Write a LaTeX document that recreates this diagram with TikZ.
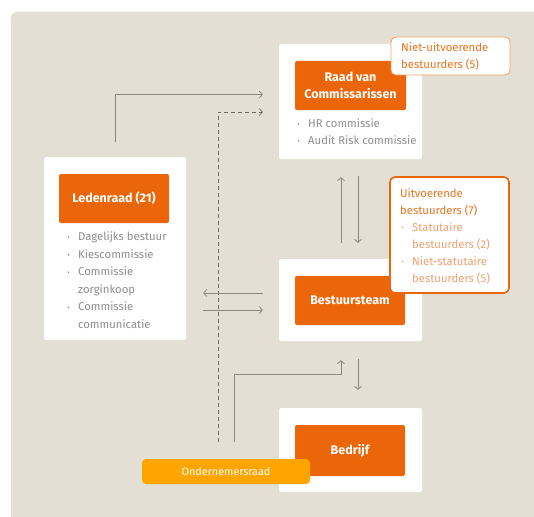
\documentclass[tikz,border=0pt]{standalone}
\usepackage{fontspec}
\setmainfont{Fira Sans}
\usetikzlibrary{arrows.meta}
\definecolor{beige}{HTML}{E3DFD5}
\definecolor{orng}{HTML}{EB6608}
\definecolor{orngtxt}{HTML}{E8731C}
\definecolor{peach}{HTML}{F0A070}
\definecolor{ornbr}{HTML}{F0A060}
\definecolor{yell}{HTML}{FFA500}
\definecolor{listgray}{HTML}{8E8E8E}
\definecolor{arrowgray}{HTML}{8A877E}
\definecolor{dashgray}{HTML}{6E6B64}
\tikzset{
  whitebox/.style={fill=white, rounded corners=2pt, inner sep=0pt},
  orangebox/.style={fill=orng, rounded corners=2pt, inner sep=0pt, text=white, font=\bfseries\fontsize{12.5}{16.6}\selectfont, align=center},
  listtxt/.style={text=listgray, font=\fontsize{11.3}{13}\selectfont, inner sep=0pt, anchor=base west},
  bul/.style={fill=listgray, circle, inner sep=0pt, minimum size=1.8pt},
  callout/.style={fill=white, draw=ornbr, rounded corners=5pt, inner sep=0pt},
  calltxt/.style={text=orngtxt, font=\fontsize{11.3}{13}\selectfont, inner sep=0pt, anchor=base west},
  subtxt/.style={text=peach, font=\fontsize{11.3}{13}\selectfont, inner sep=0pt, anchor=base west},
  conn/.style={draw=arrowgray, line width=0.8pt, -{Straight Barb[length=3pt,width=7pt]}},
  dconn/.style={draw=dashgray, line width=0.7pt, dash pattern=on 4pt off 3pt, -{Straight Barb[length=3pt,width=7pt]}},
}
\begin{document}
\begin{tikzpicture}[x=1pt,y=-1pt]
\useasboundingbox (0,0) rectangle (534,516);
\fill[white] (0,0) rectangle (534,516);
\fill[beige, rounded corners=6pt] (11,12) rectangle (550,530);

% white boxes
\node[whitebox, minimum width=143pt, minimum height=115pt] (rvcbox) at (350.5,101.5) {};
\node[whitebox, minimum width=142pt, minimum height=183pt] (ledenbox) at (115,248.5) {};
\node[whitebox, minimum width=143pt, minimum height=82pt] (bestbox) at (350.5,300) {};
\node[whitebox, minimum width=143pt, minimum height=84pt] (bedrbox) at (350.5,450) {};

% orange title boxes
\node[orangebox, minimum width=111pt, minimum height=49pt] (rvc) at (350.5,85.5) {Raad van\\Commissarissen};
\node[orangebox, minimum width=110pt, minimum height=49pt] (leden) at (114,198.5) {Ledenraad (21)};
\node[orangebox, minimum width=110pt, minimum height=49pt] (best) at (350,300.5) {Bestuursteam};
\node[orangebox, minimum width=110pt, minimum height=51pt] (bedr) at (350,450.5) {Bedrijf};

% RvC list
\node[bul] (rb1) at (298.5,124) {};
\node[listtxt] (rl1) at (308,127.5) {HR commissie};
\node[bul] (rb2) at (298.5,141) {};
\node[listtxt] (rl2) at (308,144.5) {Audit Risk commissie};

% Ledenraad list
\node[bul] (lb1) at (68.5,237) {};
\node[listtxt] (ll1) at (78,240.5) {Dagelijks bestuur};
\node[bul] (lb2) at (68.5,254.6) {};
\node[listtxt] (ll2) at (78,258.1) {Kiescommissie};
\node[bul] (lb3) at (68.5,272.2) {};
\node[listtxt] (ll3) at (78,275.7) {Commissie};
\node[listtxt] (ll4) at (78,293.3) {zorginkoop};
\node[bul] (lb5) at (68.5,307.4) {};
\node[listtxt] (ll5) at (78,310.9) {Commissie};
\node[listtxt] (ll6) at (78,328.5) {communicatie};

% callouts
\node[callout, line width=0.8pt, minimum width=119pt, minimum height=38pt] (nietuit) at (450.5,56) {};
\node[calltxt] (nu1) at (401,52) {Niet-uitvoerende};
\node[calltxt] (nu2) at (401,69) {bestuurders (5)};

\node[callout, line width=1.6pt, draw=orng, minimum width=119pt, minimum height=116pt] (uitv) at (449.5,235) {};
\node[calltxt] (uv1) at (400,197) {Uitvoerende};
\node[calltxt] (uv2) at (400,214) {bestuurders (7)};
\node[bul, fill=peach] (ub1) at (402.5,227.5) {};
\node[subtxt] (uv3) at (412,231) {Statutaire};
\node[subtxt] (uv4) at (412,248) {bestuurders (2)};
\node[bul, fill=peach] (ub2) at (402.5,261.5) {};
\node[subtxt] (uv5) at (412,265) {Niet-statutaire};
\node[subtxt] (uv6) at (412,282) {bestuurders (5)};

% Ondernemersraad
\node[fill=yell, rounded corners=4pt, minimum width=168pt, minimum height=25pt, inner sep=0pt, text=white, font=\fontsize{10.8}{12}\selectfont] (or) at (226,471.5) {Ondernemersraad};

% connector coordinates
\coordinate (lrTop) at ([yshift=15pt]ledenbox.north);
\coordinate (rvcIn1) at ([xshift=-16pt,yshift=7pt]rvcbox.west);
\coordinate (rvcIn2) at ([xshift=-16pt,yshift=-10.5pt]rvcbox.west);
\coordinate (orD) at ([xshift=-8pt,yshift=17pt]or.north);
\coordinate (orS) at ([xshift=8pt,yshift=17pt]or.north);
\coordinate (lrE) at ([xshift=17pt]ledenbox.east);
\coordinate (bW1) at ([xshift=-16pt,yshift=7pt]bestbox.west);
\coordinate (bW2) at ([xshift=-16pt,yshift=-10pt]bestbox.west);
\coordinate (rvcS1) at ([xshift=-9.5pt,yshift=-18pt]rvcbox.south);
\coordinate (rvcS2) at ([xshift=7.5pt,yshift=-17pt]rvcbox.south);
\coordinate (bN1) at ([xshift=-9.5pt,yshift=16pt]bestbox.north);
\coordinate (bN2) at ([xshift=7.5pt,yshift=16pt]bestbox.north);
\coordinate (bS1) at ([xshift=-9.5pt,yshift=-19pt]bestbox.south);
\coordinate (bS2) at ([xshift=7.5pt,yshift=-18pt]bestbox.south);
\coordinate (bedN) at ([xshift=7.5pt,yshift=18pt]bedrbox.north);
\coordinate (orCorner) at (orS |- 0,374);

% connectors
\draw[conn] (lrTop) |- (rvcIn1);
\draw[dconn] (orD) |- (rvcIn2);
\draw[conn] (bN1) -- (rvcS1);
\draw[conn] (rvcS2) -- (bN2);
\draw[conn] (bW1) -- (bW1 -| lrE);
\draw[conn] (bW2 -| lrE) -- (bW2);
\draw[conn] (orS) -- (orCorner) -| (bS1);
\draw[conn] (bS2) -- (bedN);
\end{tikzpicture}
\end{document}
